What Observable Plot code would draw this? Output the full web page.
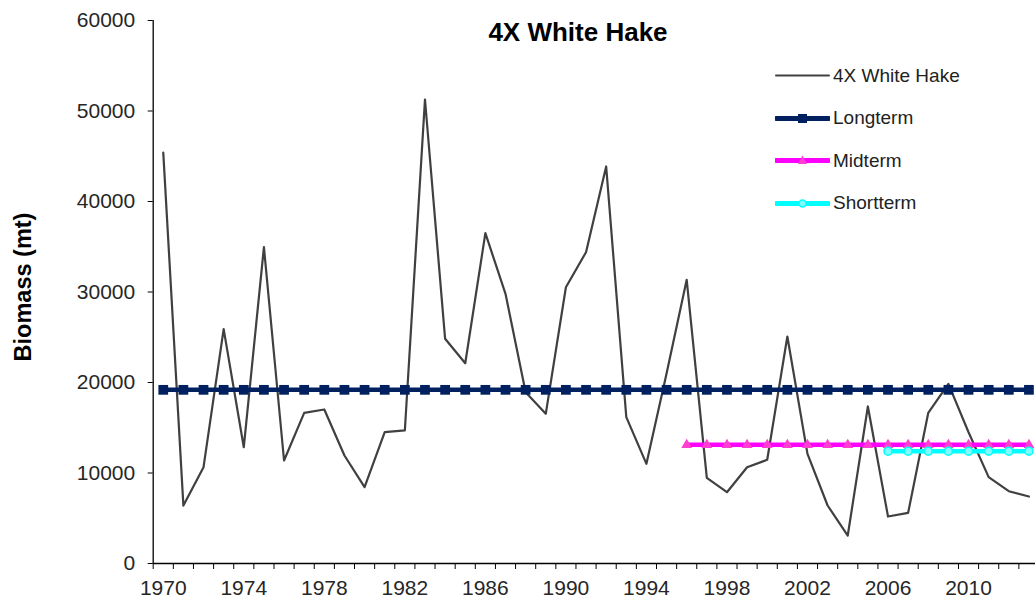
<!DOCTYPE html>
<html>
<head>
<meta charset="utf-8">
<script src="https://cdn.jsdelivr.net/npm/d3@7"></script>
<script src="https://cdn.jsdelivr.net/npm/@observablehq/plot@0.6"></script>
<style>
  html, body { margin: 0; padding: 0; background: #fff; overflow: hidden; }
  #wrap { position: relative; width: 1035px; height: 599px; font-family: "Liberation Sans", Arial, sans-serif; }
  #title { position: absolute; left: 578px; top: 32px; transform: translate(-50%, -50%); font-weight: bold; font-size: 26px; color: #000; white-space: nowrap; }
  #ylabel { position: absolute; left: 23px; top: 287px; transform: translate(-50%, -50%) rotate(-90deg); font-weight: bold; font-size: 23.5px; color: #000; white-space: nowrap; }
  #legend { position: absolute; left: 775px; top: 54.5px; }
  .lg { display: flex; align-items: center; height: 42.5px; font-size: 19px; color: #222; white-space: nowrap; }
  .lg svg { margin-right: 3px; }
</style>
</head>
<body>
<div id="wrap">
  <div id="chart"></div>
  <div id="title"></div>
  <div id="ylabel"></div>
  <div id="legend"></div>
</div>
<script>
// ---- data ----
const titleText = "4X White Hake";
const yLabelText = "Biomass (mt)";
const years = [1970,1971,1972,1973,1974,1975,1976,1977,1978,1979,1980,1981,1982,1983,1984,1985,1986,1987,1988,1989,1990,1991,1992,1993,1994,1995,1996,1997,1998,1999,2000,2001,2002,2003,2004,2005,2006,2007,2008,2009,2010,2011,2012,2013];
const biomass = [45400,6400,10640,25900,12850,34950,11380,16650,17020,11930,8430,14510,14700,51270,24830,22130,36500,29800,18930,16540,30530,34400,43870,16170,11010,21000,31350,9470,7880,10640,11460,25080,12120,6410,3090,17350,5190,5600,16650,19850,14500,9540,7990,7400];

const longtermYears = years;
const longtermValues = [19190,19190,19190,19190,19190,19190,19190,19190,19190,19190,19190,19190,19190,19190,19190,19190,19190,19190,19190,19190,19190,19190,19190,19190,19190,19190,19190,19190,19190,19190,19190,19190,19190,19190,19190,19190,19190,19190,19190,19190,19190,19190,19190,19190];
const midtermYears = [1996,1997,1998,1999,2000,2001,2002,2003,2004,2005,2006,2007,2008,2009,2010,2011,2012,2013];
const midtermValues = [13110,13110,13110,13110,13110,13110,13110,13110,13110,13110,13110,13110,13110,13110,13110,13110,13110,13110];
const shorttermYears = [2006,2007,2008,2009,2010,2011,2012,2013];
const shorttermValues = [12410,12410,12410,12410,12410,12410,12410,12410];

const yTicks = [0,10000,20000,30000,40000,50000,60000];
const xLabelYears = [1970,1974,1978,1982,1986,1990,1994,1998,2002,2006,2010];
const seriesNames = ["4X White Hake","Longterm","Midterm","Shortterm"];
const seriesColors = ["#404040","#002060","#FF00FF","#00FFFF"];
const markerColors = [null,"#002060","#FF3FCF","#7FFFFF"];

// ---- tables ----
const main = years.map((y,i)=>({year:y, value:biomass[i]}));
const longterm = longtermYears.map((y,i)=>({year:y, value:longtermValues[i]}));
const midterm = midtermYears.map((y,i)=>({year:y, value:midtermValues[i]}));
const shortterm = shorttermYears.map((y,i)=>({year:y, value:shorttermValues[i]}));
const xDomain = [years[0]-0.5, years[years.length-1]+0.5];
const boundaries = [...years.map(y=>y-0.5), years[years.length-1]+0.5];

const chart = Plot.plot({
  width: 1035,
  height: 599,
  marginLeft: 152.7,
  marginRight: 0,
  marginTop: 20,
  marginBottom: 36,
  style: {fontFamily: "'Liberation Sans', Arial, sans-serif", background: "transparent", overflow: "hidden"},
  x: {domain: xDomain, range: [152.7, 1038.5]},
  y: {domain: [0, 60000], range: [563, 20]},
  marks: [
    Plot.axisY({ticks: yTicks, tickFormat: d => String(d), tickSize: 5, tickPadding: 13, fontSize: 21, fill: "#262626", stroke: "#000", label: null}),
    Plot.axisX({ticks: boundaries, tickFormat: () => "", tickSize: 6, stroke: "#000", label: null}),
    Plot.axisX({ticks: xLabelYears, tickFormat: d => String(d), tickSize: 0, tickPadding: 17, fontSize: 21, fill: "#262626", label: null}),
    Plot.ruleX([xDomain[0]], {stroke: "#000", strokeWidth: 1.3}),
    Plot.ruleY([0], {stroke: "#000", strokeWidth: 1.3}),
    Plot.line(main, {x: "year", y: "value", stroke: seriesColors[0], strokeWidth: 2.2}),
    Plot.line(longterm, {x: "year", y: "value", stroke: seriesColors[1], strokeWidth: 4.5}),
    Plot.dot(longterm, {x: "year", y: "value", symbol: "square", r: 5.5, fill: markerColors[1], stroke: null}),
    Plot.line(midterm, {x: "year", y: "value", stroke: seriesColors[2], strokeWidth: 4.5}),
    Plot.dot(midterm, {x: "year", y: "value", symbol: "triangle", r: 4, fill: markerColors[2], stroke: null}),
    Plot.line(shortterm, {x: "year", y: "value", stroke: seriesColors[3], strokeWidth: 4.5}),
    Plot.dot(shortterm, {x: "year", y: "value", symbol: "circle", r: 4, fill: markerColors[3], stroke: seriesColors[3], strokeWidth: 1.6})
  ]
});
document.getElementById("chart").appendChild(chart);
document.getElementById("title").textContent = titleText;
document.getElementById("ylabel").textContent = yLabelText;

// ---- legend ----
const legend = document.getElementById("legend");
const markerSvg = [
  "",
  '<rect x="23" y="6" width="9" height="9" fill="#002060"/>',
  '<path d="M27.5,5.5 L32,14 L23,14 Z" fill="#FF3FCF"/>',
  '<circle cx="27.5" cy="10.5" r="3.5" fill="#7FFFFF" stroke="#00FFFF" stroke-width="1.5"/>'
];
seriesNames.forEach((name, i) => {
  const row = document.createElement("div");
  row.className = "lg";
  const sw = i === 0 ? 2 : 5;
  row.innerHTML = `<svg width="55" height="21"><line x1="1" x2="54" y1="10.5" y2="10.5" stroke="${seriesColors[i]}" stroke-width="${sw}" stroke-linecap="round"/>${markerSvg[i]}</svg><span></span>`;
  row.querySelector("span").textContent = name;
  legend.appendChild(row);
});
</script>
</body>
</html>
